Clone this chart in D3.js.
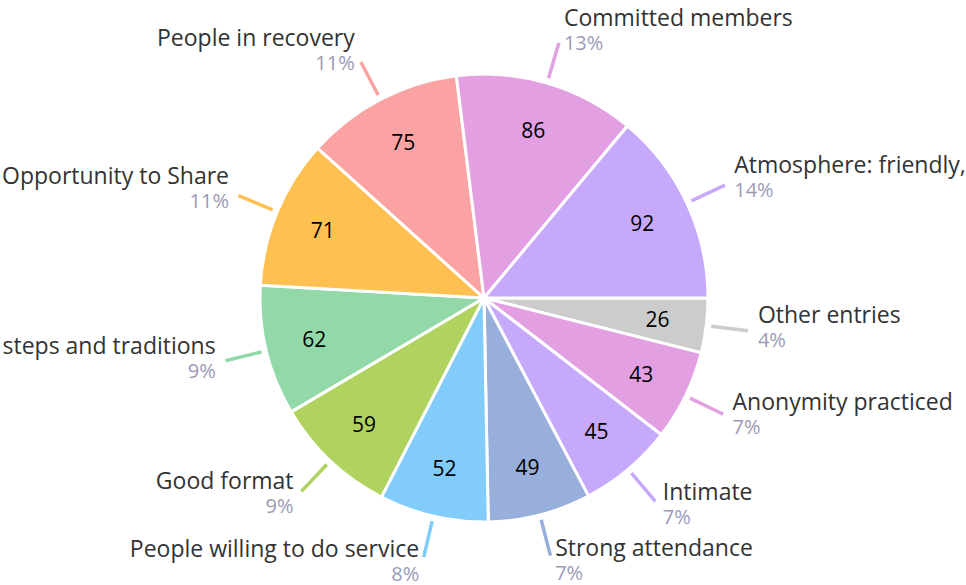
<!DOCTYPE html>
<html lang="en">
  <head>
    <meta charset="UTF-8">
    <title>Group strengths</title>
    <style>
      html, body { margin: 0; padding: 0; background: #fff; }
      svg text { font-family: "Open Sans", sans-serif; }
    </style>
  </head>
  <body>
<div id="my_dataviz"></div>
<script src="https://d3js.org/d3.v7.min.js"></script>
<script>

// data, in drawing order (clockwise from 3 o'clock)
var labels = ["Other entries", "Anonymity practiced", "Intimate", "Strong attendance",
  "People willing to do service", "Good format", "steps and traditions",
  "Opportunity to Share", "People in recovery", "Committed members", "Atmosphere: friendly,"]
var values = [26, 43, 45, 49, 52, 59, 62, 71, 75, 86, 92]
var colors = ["#cccccc", "#e2a0e2", "#c7a9fb", "#98aedb", "#81ccfa", "#b0d35f",
  "#93d8a9", "#ffc052", "#fba3a3", "#e2a0e2", "#c7a9fb"]

var width = 966,
    height = 585,
    cx = 484,
    cy = 298,
    radius = 224

var data = labels.map(function(l, i) { return {label: l, value: values[i], color: colors[i]} })
var total = d3.sum(values)

var svg = d3.select("#my_dataviz")
  .append("svg")
    .attr("width", width)
    .attr("height", height)
  .append("g")
    .attr("transform", "translate(" + cx + "," + cy + ")")

var pie = d3.pie()
  .value(function(d) { return d.value })
  .sort(null)
  .startAngle(Math.PI / 2)
  .endAngle(Math.PI / 2 + 2 * Math.PI)

var arcs = pie(data)

var arc = d3.arc().innerRadius(0).outerRadius(radius)
var valueArc = d3.arc().innerRadius(radius * 0.78).outerRadius(radius * 0.78)

// slices
svg.selectAll("path.slice")
  .data(arcs)
  .enter()
  .append("path")
    .attr("class", "slice")
    .attr("d", arc)
    .attr("fill", function(d) { return d.data.color })
    .attr("stroke", "white")
    .style("stroke-width", "3px")

// values inside
svg.selectAll("text.val")
  .data(arcs)
  .enter()
  .append("text")
    .attr("class", "val")
    .attr("transform", function(d) { return "translate(" + valueArc.centroid(d) + ")" })
    .attr("text-anchor", "middle")
    .attr("dy", "0.35em")
    .style("font-size", "21px")
    .style("fill", "#000")
    .text(function(d) { return d.data.value })

function mid(d) { return (d.startAngle + d.endAngle) / 2 }
function pt(a, r) { return [Math.sin(a) * r, -Math.cos(a) * r] }

// leader lines
svg.selectAll("line.lead")
  .data(arcs)
  .enter()
  .append("line")
    .attr("class", "lead")
    .attr("x1", function(d) { return pt(mid(d), radius + 5)[0] })
    .attr("y1", function(d) { return pt(mid(d), radius + 5)[1] })
    .attr("x2", function(d) { return pt(mid(d), 266)[0] })
    .attr("y2", function(d) { return pt(mid(d), 266)[1] })
    .attr("stroke", function(d) { return d.data.color })
    .style("stroke-width", "3.5px")

// outside labels
var lab = svg.selectAll("g.lab")
  .data(arcs)
  .enter()
  .append("g")
    .attr("class", "lab")
    .attr("transform", function(d) {
      var a = mid(d), p = pt(a, 266), s = Math.sin(a)
      var dx = (s >= 0 ? 1 : -1) * (3 + 7 * Math.abs(s))
      return "translate(" + (p[0] + dx) + "," + (p[1] - 8.5 - 8.8 * Math.cos(a)) + ")"
    })
    .attr("text-anchor", function(d) { return Math.sin(mid(d)) >= 0 ? "start" : "end" })

lab.append("text")
    .style("font-size", "23px")
    .style("fill", "#333333")
    .text(function(d) { return d.data.label })

lab.append("text")
    .attr("y", 24)
    .style("font-size", "20px")
    .style("fill", "#9a9ab6")
    .text(function(d) { return Math.round(d.data.value / total * 100) + "%" })

</script>
  </body>
</html>
